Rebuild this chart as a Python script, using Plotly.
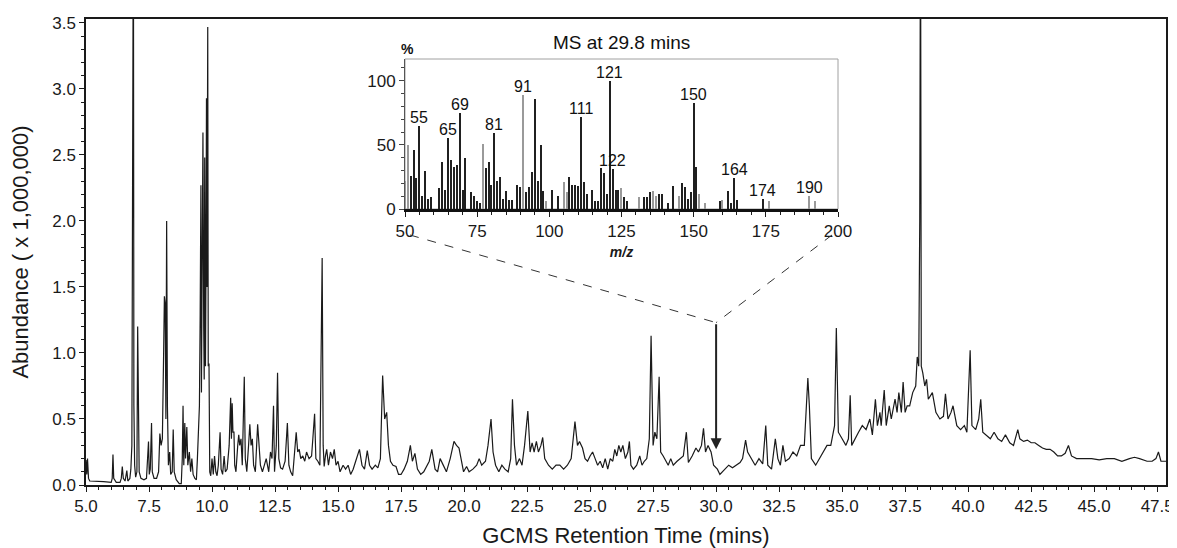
import plotly.graph_objects as go

# ---------------- Chromatogram data (retention time in min, abundance x 1,000,000) ----------------
rt_early = [5.00, 5.03, 5.06, 5.10, 5.15, 5.40, 5.70, 6.00, 6.04, 6.07, 6.10, 6.20, 6.35, 6.40, 6.44, 6.48,
            6.55, 6.62, 6.66, 6.74, 6.78, 6.82, 6.84, 6.86, 6.88, 6.90, 6.93, 6.97, 7.02, 7.05, 7.08, 7.11,
            7.18, 7.30, 7.40, 7.45, 7.48, 7.51, 7.55, 7.60, 7.63, 7.70, 7.80, 7.88, 7.93, 7.98, 8.03, 8.08,
            8.11, 8.14, 8.17, 8.20, 8.23, 8.27, 8.32, 8.36, 8.42, 8.46, 8.50, 8.58, 8.70, 8.78, 8.82, 8.85,
            8.88, 8.92, 8.95, 9.00, 9.04, 9.10, 9.15, 9.20, 9.25, 9.32, 9.38, 9.42, 9.46, 9.50, 9.53, 9.56,
            9.58, 9.61, 9.64, 9.67, 9.69, 9.71, 9.74, 9.76, 9.78, 9.80, 9.83, 9.85, 9.88, 9.91, 9.95]
ab_early = [0.19, 0.08, 0.20, 0.05, 0.03, 0.03, 0.025, 0.02, 0.05, 0.23, 0.05, 0.02, 0.02, 0.05, 0.14, 0.05,
            0.03, 0.11, 0.03, 0.05, 0.12, 0.30, 1.30, 2.62, 4.50, 0.60, 0.15, 0.06, 0.10, 1.20, 0.45, 0.10,
            0.05, 0.04, 0.05, 0.20, 0.33, 0.08, 0.12, 0.47, 0.10, 0.05, 0.05, 0.10, 0.39, 0.30, 0.35, 1.00,
            1.43, 1.38, 0.50, 2.00, 0.60, 0.15, 0.25, 0.08, 0.10, 0.42, 0.10, 0.04, 0.01, 0.01, 0.20, 0.60,
            0.15, 0.47, 0.20, 0.44, 0.15, 0.25, 0.10, 0.20, 0.08, 0.05, 0.04, 0.20, 0.42, 0.60, 1.30, 2.27,
            0.70, 1.50, 2.67, 1.20, 0.80, 2.48, 0.90, 1.60, 2.93, 1.50, 3.47, 0.90, 0.92, 0.10, 0.07]

rt_mid = [10.00, 10.05, 10.10, 10.15, 10.20, 10.25, 10.32, 10.36, 10.42, 10.48, 10.53, 10.60, 10.68, 10.74,
          10.77, 10.80, 10.83, 10.87, 10.90, 10.95, 11.02, 11.06, 11.10, 11.15, 11.20, 11.28, 11.32, 11.38,
          11.45, 11.50, 11.55, 11.60, 11.65, 11.72, 11.81, 11.86, 11.92, 12.00, 12.08, 12.15, 12.25, 12.32,
          12.38, 12.44, 12.48, 12.55, 12.60, 12.65, 12.72, 12.80, 12.90, 12.99, 13.05, 13.12, 13.20, 13.28,
          13.34, 13.40, 13.46, 13.52, 13.60, 13.68, 13.75, 13.85, 13.95, 14.00, 14.07, 14.12, 14.20, 14.28,
          14.33, 14.37, 14.41, 14.45, 14.50, 14.55, 14.62, 14.70, 14.78, 14.85, 14.92, 15.00, 15.08, 15.20,
          15.30, 15.40, 15.50, 15.60, 15.70, 15.85, 15.95, 16.05, 16.16, 16.25, 16.35, 16.48, 16.58, 16.68,
          16.77, 16.85, 16.93, 17.00, 17.08, 17.18, 17.30, 17.40, 17.50, 17.62, 17.75, 17.87, 17.95, 18.05,
          18.15, 18.28, 18.40, 18.52, 18.62, 18.72, 18.85, 18.95, 19.05, 19.15, 19.30, 19.45, 19.60, 19.70,
          19.80, 19.88, 19.98, 20.10, 20.20, 20.35, 20.50, 20.60, 20.70, 20.85, 20.95, 21.07, 21.15, 21.25,
          21.38, 21.50, 21.62, 21.75, 21.85, 21.92, 22.00, 22.08, 22.20, 22.30, 22.40, 22.53, 22.62, 22.70,
          22.78, 22.87, 22.95, 23.05, 23.12, 23.20, 23.35, 23.50, 23.65, 23.80, 23.95, 24.10, 24.25, 24.40,
          24.50, 24.58, 24.70, 24.80, 24.90, 25.00]
ab_mid = [0.20, 0.08, 0.22, 0.10, 0.07, 0.15, 0.40, 0.12, 0.08, 0.22, 0.10, 0.12, 0.30, 0.66,
          0.35, 0.62, 0.40, 0.40, 0.15, 0.10, 0.30, 0.38, 0.30, 0.35, 0.15, 0.82, 0.20, 0.10,
          0.30, 0.46, 0.30, 0.35, 0.15, 0.10, 0.46, 0.30, 0.15, 0.10, 0.15, 0.20, 0.10, 0.25,
          0.20, 0.60, 0.10, 0.30, 0.85, 0.20, 0.13, 0.12, 0.18, 0.47, 0.15, 0.10, 0.07, 0.30,
          0.40, 0.25, 0.27, 0.20, 0.22, 0.18, 0.25, 0.20, 0.22, 0.35, 0.54, 0.20, 0.18, 0.15,
          0.90, 1.72, 0.30, 0.14, 0.22, 0.27, 0.15, 0.25, 0.20, 0.27, 0.15, 0.18, 0.10, 0.15,
          0.12, 0.15, 0.08, 0.12, 0.18, 0.27, 0.15, 0.12, 0.26, 0.15, 0.12, 0.15, 0.13, 0.20,
          0.83, 0.50, 0.55, 0.30, 0.18, 0.15, 0.14, 0.08, 0.08, 0.12, 0.18, 0.30, 0.18, 0.24,
          0.12, 0.08, 0.10, 0.15, 0.18, 0.27, 0.12, 0.10, 0.20, 0.16, 0.10, 0.20, 0.33, 0.30,
          0.28, 0.20, 0.10, 0.14, 0.10, 0.12, 0.15, 0.20, 0.15, 0.18, 0.30, 0.50, 0.25, 0.15,
          0.10, 0.15, 0.12, 0.10, 0.20, 0.65, 0.30, 0.15, 0.20, 0.15, 0.30, 0.56, 0.25, 0.32,
          0.25, 0.33, 0.25, 0.30, 0.36, 0.20, 0.15, 0.12, 0.15, 0.15, 0.12, 0.15, 0.20, 0.48,
          0.30, 0.33, 0.28, 0.20, 0.18, 0.22]

rt_late = [25.10, 25.20, 25.30, 25.40, 25.50, 25.60, 25.70, 25.80, 25.90, 25.98, 26.06, 26.14, 26.22, 26.30,
           26.40, 26.50, 26.56, 26.62, 26.72, 26.85, 26.97, 27.06, 27.15, 27.25, 27.35, 27.42, 27.50, 27.57,
           27.65, 27.74, 27.80, 27.90, 28.00, 28.10, 28.20, 28.30, 28.45, 28.60, 28.70, 28.82, 28.90, 29.05,
           29.20, 29.30, 29.42, 29.50, 29.58, 29.68, 29.80, 29.90, 30.05, 30.15, 30.25, 30.35, 30.50, 30.65,
           30.80, 30.95, 31.05, 31.17, 31.25, 31.40, 31.55, 31.70, 31.85, 31.97, 32.05, 32.20, 32.35, 32.45,
           32.55, 32.65, 32.75, 32.90, 33.05, 33.20, 33.35, 33.50, 33.64, 33.70, 33.78, 33.95, 34.10, 34.25,
           34.40, 34.55, 34.70, 34.77, 34.85, 35.00, 35.15, 35.25, 35.32, 35.38, 35.50, 35.65, 35.80, 35.95,
           36.10, 36.20, 36.32, 36.40, 36.50, 36.55, 36.67, 36.75, 36.87, 36.95, 37.10, 37.18, 37.25, 37.35,
           37.42, 37.50, 37.58, 37.68, 37.80, 37.92, 37.98, 38.04, 38.08, 38.11, 38.14, 38.20, 38.28, 38.35,
           38.42, 38.58, 38.72, 38.88, 39.02, 39.10, 39.20, 39.32, 39.40, 39.55, 39.70, 39.85, 39.95, 40.08,
           40.15, 40.30, 40.42, 40.50, 40.58, 40.72, 40.88, 41.03, 41.18, 41.33, 41.48, 41.65, 41.80, 41.97,
           42.05, 42.20, 42.35, 42.50, 42.65, 42.80, 42.95, 43.10, 43.25, 43.40, 43.55, 43.70, 43.85, 43.98,
           44.10, 44.30, 44.60, 44.90, 45.20, 45.50, 45.80, 46.10, 46.40, 46.60, 46.80, 47.10, 47.30, 47.45,
           47.55, 47.65, 47.80, 47.85]
ab_late = [0.25, 0.20, 0.15, 0.18, 0.13, 0.20, 0.12, 0.20, 0.18, 0.27, 0.22, 0.30, 0.25, 0.30,
           0.20, 0.25, 0.33, 0.15, 0.12, 0.15, 0.22, 0.15, 0.18, 0.20, 0.35, 1.13, 0.30, 0.40,
           0.35, 0.82, 0.25, 0.22, 0.18, 0.15, 0.20, 0.15, 0.18, 0.20, 0.22, 0.40, 0.17, 0.22,
           0.28, 0.25, 0.30, 0.43, 0.25, 0.30, 0.25, 0.15, 0.12, 0.08, 0.10, 0.12, 0.15, 0.13,
           0.15, 0.17, 0.20, 0.34, 0.25, 0.20, 0.15, 0.20, 0.16, 0.45, 0.15, 0.12, 0.35, 0.20,
           0.15, 0.30, 0.18, 0.20, 0.25, 0.22, 0.30, 0.30, 0.81, 0.60, 0.20, 0.15, 0.20, 0.25,
           0.30, 0.30, 0.45, 1.19, 0.40, 0.35, 0.30, 0.35, 0.68, 0.30, 0.35, 0.40, 0.45, 0.42,
           0.50, 0.38, 0.65, 0.45, 0.55, 0.45, 0.72, 0.45, 0.60, 0.50, 0.65, 0.55, 0.70, 0.55,
           0.78, 0.55, 0.60, 0.60, 0.70, 0.75, 0.97, 0.90, 2.00, 4.50, 0.90, 0.85, 0.75, 0.80,
           0.65, 0.70, 0.55, 0.50, 0.52, 0.69, 0.50, 0.55, 0.60, 0.45, 0.42, 0.45, 0.40, 1.02,
           0.45, 0.42, 0.50, 0.65, 0.40, 0.38, 0.35, 0.40, 0.35, 0.33, 0.38, 0.32, 0.30, 0.42,
           0.35, 0.33, 0.34, 0.32, 0.32, 0.30, 0.28, 0.27, 0.27, 0.25, 0.22, 0.22, 0.24, 0.30,
           0.22, 0.20, 0.20, 0.20, 0.19, 0.20, 0.20, 0.18, 0.20, 0.21, 0.20, 0.18, 0.18, 0.20,
           0.25, 0.18, 0.18, 0.18]

# ---------------- Mass spectrum at 29.8 min ----------------
ms_mz = [50, 51, 52, 53, 54, 55, 56, 57, 58, 59, 62, 63, 64, 65, 66, 67, 68, 69, 70, 71, 73, 74, 75, 76,
         77, 78, 79, 80, 81, 82, 83, 84, 85, 86, 87, 89, 90, 91, 92, 93, 94, 95, 96, 97, 98, 99, 101,
         103, 105, 106, 107, 108, 109, 110, 111, 112, 113, 115, 116, 117, 118, 119, 120, 121, 122, 123,
         124, 125, 126, 127, 131, 133, 134, 135, 136, 137, 138, 139, 141, 143, 145, 146, 147, 148, 149,
         150, 151, 152, 154, 159, 160, 162, 163, 164, 165, 174, 176, 190, 192]
ms_int = [22, 50, 26, 46, 24, 65, 10, 30, 8, 9, 16, 37, 15, 55, 38, 33, 34, 75, 15, 40, 13, 10, 6, 5,
          51, 32, 37, 19, 59, 22, 25, 8, 14, 7, 7, 19, 17, 89, 13, 17, 29, 86, 22, 50, 14, 6, 15,
          10, 21, 13, 25, 19, 19, 18, 72, 21, 12, 15, 6, 6, 32, 28, 12, 100, 31, 15,
          15, 16, 9, 6, 9, 9, 9, 13, 14, 10, 12, 12, 5, 18, 10, 20, 17, 8, 13,
          83, 33, 12, 5, 6, 7, 14, 5, 24, 7, 8, 6, 10, 6]
ms_light = {50, 51, 77, 91, 99, 105, 106, 125, 131, 136, 137, 145, 152, 154, 160, 176, 190, 192}
ms_labels = [55, 65, 69, 81, 91, 111, 121, 122, 150, 164, 174, 190]

ms_title = "MS at 29.8 mins"
arrow_time = 30.0
arrow_top = 1.23
arrow_tip = 0.27

# ---------------- Figure ----------------
# The page body keeps the browser's default 8px margin (left/top), so every pixel
# target below is given in window pixels and converted.
BODY = 8
WIN_W, WIN_H = 1177, 548
PLOT_L, PLOT_R, PLOT_T, PLOT_B = 86, 1166, 19, 485       # plot area in window pixels
W, H = WIN_W - BODY, WIN_H - BODY
ML, MT = PLOT_L - BODY, PLOT_T - BODY
MR = W - (PLOT_R - BODY)
MB = H - (PLOT_B - BODY)
X_RANGE = [5.0, 47.85]
Y_RANGE = [0.0, 3.53]
FONT = "Liberation Sans, Arial, sans-serif"
INK = "#1a1a1a"

rt = rt_early + rt_mid + rt_late
ab = ab_early + ab_mid + ab_late

fig = go.Figure()
fig.add_trace(go.Scatter(x=rt, y=ab, mode="lines", line=dict(color=INK, width=1.2),
                         showlegend=False, hoverinfo="x+y"))

bar_colors = ["#9a9a9a" if m in ms_light else "#202020" for m in ms_mz]
fig.add_trace(go.Bar(x=ms_mz, y=ms_int, width=0.45, marker=dict(color=bar_colors, line=dict(width=0)),
                     xaxis="x2", yaxis="y2", showlegend=False))

plot_w = PLOT_R - PLOT_L
plot_h = PLOT_B - PLOT_T


def px_to_paper(px, py):
    return (px - PLOT_L) / plot_w, (PLOT_B - py) / plot_h


def data_to_paper(x, y):
    return ((x - X_RANGE[0]) / (X_RANGE[1] - X_RANGE[0]),
            (y - Y_RANGE[0]) / (Y_RANGE[1] - Y_RANGE[0]))


# inset domain (window pixel box 405..838 x 59..209)
ix0, iy0 = px_to_paper(405, 209)
ix1, iy1 = px_to_paper(838, 59)

fig.update_layout(
    width=W, height=H,
    margin=dict(l=ML, r=MR, t=MT, b=MB, pad=0, autoexpand=False),
    paper_bgcolor="white", plot_bgcolor="rgba(0,0,0,0)",
    font=dict(family=FONT, color=INK, size=17),
    bargap=0,
    xaxis=dict(range=X_RANGE, domain=[0, 1], tick0=5, dtick=2.5, tickformat=".1f", automargin=False,
               ticklabeloverflow="allow",
               ticks="outside", ticklen=5, tickwidth=1, tickcolor=INK,
               minor=dict(dtick=0.5, ticks="outside", ticklen=3, tickcolor=INK),
               showline=True, linecolor=INK, linewidth=2, mirror=True,
               showgrid=False, zeroline=False, tickfont=dict(size=17),
               title=dict(text="GCMS Retention Time (mins)", font=dict(size=22), standoff=13)),
    yaxis=dict(range=Y_RANGE, domain=[0, 1], tick0=0, dtick=0.5, tickformat=".1f", automargin=False,
               ticklabeloverflow="allow",
               ticks="outside", ticklen=5, tickwidth=1, tickcolor=INK,
               minor=dict(dtick=0.1, ticks="outside", ticklen=3, tickcolor=INK),
               showline=True, linecolor=INK, linewidth=1.5, mirror=True,
               showgrid=False, zeroline=False, tickfont=dict(size=17),
               title=dict(text="Abundance ( x 1,000,000)", font=dict(size=22), standoff=18)),
    xaxis2=dict(domain=[ix0, ix1], anchor="y2", range=[50, 200], tick0=50, dtick=25, automargin=False,
                ticks="outside", ticklen=5, tickcolor=INK,
                minor=dict(dtick=5, ticks="outside", ticklen=3, tickcolor=INK),
                showline=True, linecolor="#111", linewidth=2.5, showgrid=False, zeroline=False,
                tickfont=dict(size=17),
                title=dict(text="<b><i>m/z</i></b>", font=dict(size=14), standoff=8)),
    yaxis2=dict(domain=[iy0, iy1], anchor="x2", range=[0, 117], tick0=0, dtick=50, automargin=False,
                ticks="outside", ticklen=5, tickcolor="#444",
                minor=dict(dtick=10, ticks="outside", ticklen=3, tickcolor="#444"),
                showline=True, linecolor="#555", linewidth=1, showgrid=False, zeroline=False,
                tickfont=dict(size=17)),
)

# inset frame (grey top/right)
fig.add_shape(type="rect", xref="x2 domain", yref="y2 domain", x0=0, x1=1, y0=0, y1=1,
              line=dict(color="#a0a0a0", width=1), layer="below")

# peak labels in the inset
for m in ms_labels:
    fig.add_annotation(x=m, y=ms_int[ms_mz.index(m)], xref="x2", yref="y2", text=str(m),
                       showarrow=False, xanchor="center", yanchor="bottom", yshift=-2,
                       font=dict(size=16, color="#111"))

# inset title and % label
tx, ty = px_to_paper(621, 42)
fig.add_annotation(x=tx, y=ty, xref="paper", yref="paper", text=ms_title, showarrow=False,
                   xanchor="center", yanchor="middle", font=dict(size=19, color="#111"))
px_, py_ = px_to_paper(407, 49)
fig.add_annotation(x=px_, y=py_, xref="paper", yref="paper", text="<b>%</b>", showarrow=False,
                   xanchor="center", yanchor="middle", font=dict(size=14, color="#111"))

# dashed connectors from inset to arrow
ex, ey = data_to_paper(arrow_time, arrow_top)
for sx_px in (410, 832):
    sx, sy = px_to_paper(sx_px, 235)
    fig.add_shape(type="line", xref="paper", yref="paper", x0=sx, y0=sy, x1=ex, y1=ey,
                  line=dict(color="#333", width=1, dash="dash"))

# arrow to retention time of the mass spectrum
fig.add_annotation(x=arrow_time, y=arrow_tip, ax=arrow_time, ay=arrow_top, xref="x", yref="y",
                   axref="x", ayref="y", text="", showarrow=True, arrowhead=2, arrowsize=1.1,
                   arrowwidth=2, arrowcolor="#222", standoff=0, startstandoff=0)

fig.write_html("out.html")
